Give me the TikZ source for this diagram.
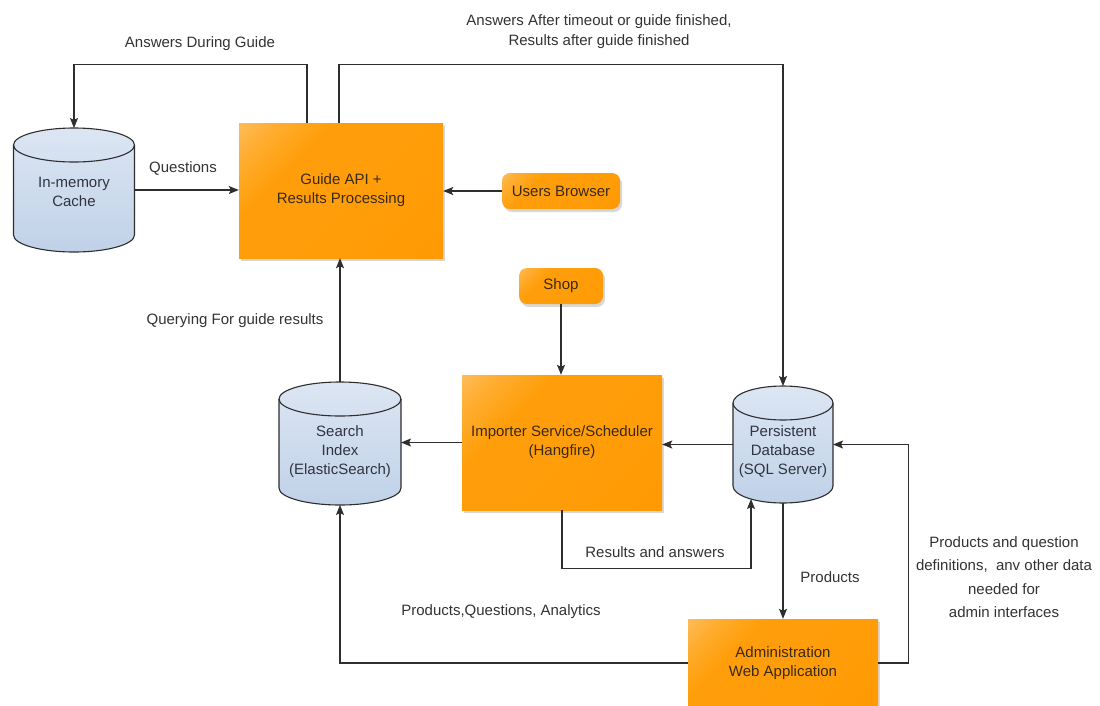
\documentclass[tikz,border=0pt]{standalone}
\usepackage{fontspec}
\setmainfont{Liberation Sans}
\usetikzlibrary{arrows.meta,shadows,calc}
\definecolor{orA}{HTML}{FFD9A0}
\definecolor{orB}{HTML}{FFAE33}
\definecolor{orC}{HTML}{FF9E0A}
\definecolor{orD}{HTML}{FF9800}
\definecolor{boxtxt}{HTML}{3A2A12}
\definecolor{labc}{HTML}{333333}
\definecolor{linec}{HTML}{2E2E2E}
\definecolor{cylA}{HTML}{DCE6F3}
\definecolor{cylB}{HTML}{C0D1E8}
\definecolor{cyltxt}{HTML}{2F3440}
\pgfdeclareverticalshading{glassor}{100bp}{color(0bp)=(orD); color(50bp)=(orC); color(66bp)=(orC); color(78bp)=(orB); color(100bp)=(orA)}
\newcommand{\cry}{17}
\newcommand{\dbshape}[7]{%
  \path[draw=linec, line width=1.1pt, top color=cylA, bottom color=cylB]
    (#2-#5,-#3-\cry) -- (#2-#5,-#4+\cry)
    arc[start angle=180,end angle=360,x radius=#5,y radius=\cry]
    -- (#2+#5,-#3-\cry)
    arc[start angle=0,end angle=180,x radius=#5,y radius=\cry] -- cycle;
  \draw[draw=linec, line width=1.1pt] (#2-#5,-#3-\cry)
    arc[start angle=180,end angle=360,x radius=#5,y radius=\cry];
  \node[minimum width={2*#5}, minimum height={#4-#3}, inner sep=0pt, outer sep=0pt] (#1) at (#2,{-(#3+#4)/2}) {};
  \node[align=center, text=cyltxt, inner sep=0pt] (#1txt) at (#2,-#6) {#7};
}
\begin{document}
\begin{tikzpicture}[x=1pt,y=1pt,
  font=\fontsize{15}{19}\selectfont,
  orangebox/.style={shade, shading=glassor, shading angle=45,
    text=boxtxt, align=center, inner sep=0pt,
    drop shadow={opacity=0.3, shadow xshift=2pt, shadow yshift=-3pt}},
  pill/.style={orangebox, rounded corners=8pt},
  conn/.style={draw=linec, line width=1.1pt, -{Stealth[length=10pt,width=8pt,inset=2pt]}},
  lab/.style={text=labc, inner sep=0pt}]
\useasboundingbox (0,0) rectangle (1100,-705);
\fill[white] (0,0) rectangle (1100,-705);

% orange boxes
\node[orangebox, minimum width=204, minimum height=135] (guide) at (341,-190.5) {Guide API +\\Results Processing};
\node[orangebox, minimum width=200, minimum height=135] (imp) at (562,-442.5) {Importer Service/Scheduler\\(Hangfire)};
\node[orangebox, minimum width=190, minimum height=88] (adm) at (783,-663) {Administration\\Web Application};
\node[pill, minimum width=118, minimum height=36] (ub) at (561,-191) {Users Browser};
\node[pill, minimum width=84, minimum height=36] (shop) at (561,-286) {Shop};

% cylinders
\dbshape{cache}{74}{128}{252}{60.5}{192}{In-memory\\Cache}
\dbshape{search}{340}{382}{505}{61}{452}{Search\\Index\\(ElasticSearch)}
\dbshape{db}{783}{386}{503}{50}{452}{Persistent\\Database\\(SQL Server)}
\coordinate (dbin) at (751,-499);

% connectors
\draw[conn] ([xshift=-34pt]guide.north) -- ++(0,58) -| (cache.north);
\draw[conn] ([xshift=-2pt]guide.north) -- ++(0,58) -| (db.north);
\draw[conn] (cache.east) -- (cache.east -| guide.west);
\draw[conn] (ub.west) -- (ub.west -| guide.east);
\draw[conn] (shop.south) -- (shop.south |- imp.north);
\draw[conn] (db.west) -- (db.west -| imp.east);
\draw[conn] (imp.west) -- (imp.west -| search.east);
\draw[conn] (search.north) -- (search.north |- guide.south);
\draw[conn] (imp.south) -- ++(0,-58) -| (dbin);
\draw[conn] (db.south) -- (adm.north);
\draw[conn] (adm.west) -| (search.south);
\draw[conn] (adm.east) -- ++(30,0) |- (db.east);

% labels
\node[lab] (l1) at (200,-44) {Answers During Guide};
\node[lab, align=center, font=\fontsize{15}{20}\selectfont] (l2) at (599,-32) {Answers After timeout or guide finished,\\Results after guide finished};
\node[lab] (l3) at (183,-168) {Questions};
\node[lab] (l4) at (235,-321) {Querying For guide results};
\node[lab] (l5) at (655,-552) {Results and answers};
\node[lab] (l6) at (830,-577) {Products};
\node[lab] (l7) at (501,-612) {Products,Questions, Analytics};
\node[lab, align=center, font=\fontsize{15}{23.5}\selectfont] (l8) at (1004,-577) {Products and question\\definitions,\ \ anv other data\\needed for\\admin interfaces};
\end{tikzpicture}
\end{document}
